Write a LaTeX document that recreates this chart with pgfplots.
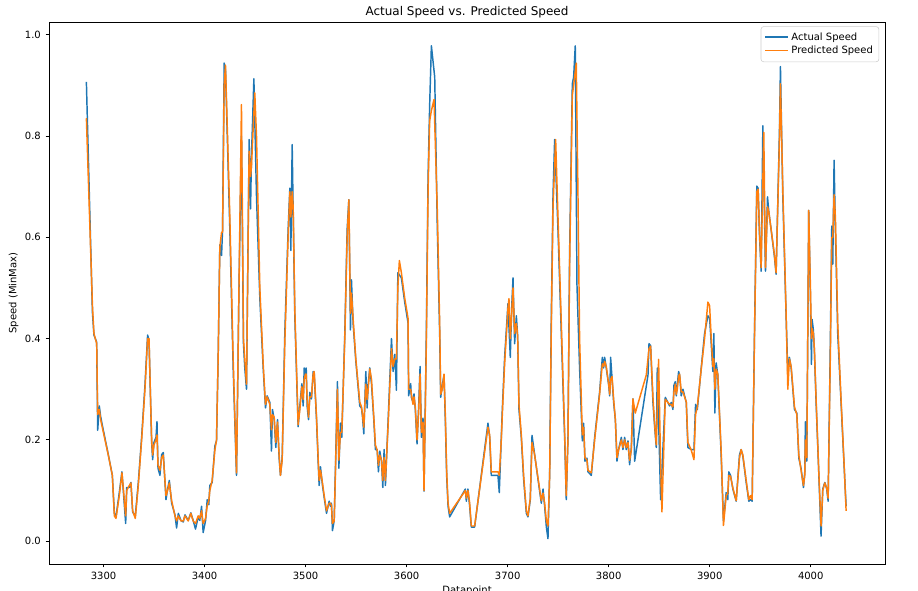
\documentclass[border=0pt]{standalone}
\usepackage{pgfplots}
\pgfplotsset{compat=1.18}
\usepackage{pgfplotstable}
\usepackage{fontspec}
\setmainfont{DejaVu Sans}
\definecolor{tabblue}{HTML}{1F77B4}
\definecolor{taborange}{HTML}{FF7F0E}

\pgfplotstableread{
x y
3283 0.907
3289 0.451
3290.5 0.407
3293.2 0.393
3294.2 0.219
3295.8 0.267
3297.1 0.246
3299.8 0.219
3304.7 0.171
3308.7 0.130
3310.7 0.055
3312.3 0.048
3315.6 0.096
3318.2 0.137
3320.2 0.082
3321.9 0.035
3322.9 0.106
3325.5 0.106
3327.1 0.116
3328.8 0.058
3331.4 0.049
3334.4 0.116
3337.7 0.205
3341 0.308
3343.6 0.407
3345 0.397
3347.6 0.195
3348.6 0.161
3349.9 0.195
3351.9 0.205
3352.9 0.236
3353.9 0.144
3355.8 0.130
3357.5 0.171
3359.1 0.175
3361.8 0.082
3363.4 0.103
3365.1 0.120
3367.4 0.075
3370.7 0.052
3372.3 0.026
3374 0.055
3376.6 0.041
3378.9 0.038
3380.6 0.052
3383.8 0.041
3386.4 0.056
3388.7 0.041
3391 0.024
3393.7 0.048
3395.3 0.041
3397 0.069
3398.6 0.017
3401 0.041
3402.6 0.082
3404.2 0.072
3405.2 0.110
3407.5 0.116
3410.2 0.188
3411.8 0.198
3413.5 0.369
3415.1 0.585
3416.8 0.564
3417.8 0.615
3419.4 0.944
3420.7 0.930
3425 0.615
3428.3 0.342
3431.6 0.130
3433.9 0.479
3436.5 0.800
3438.5 0.390
3439.8 0.342
3441.5 0.300
3444.1 0.793
3445.5 0.656
3446.4 0.759
3448.8 0.913
3451.4 0.680
3454.7 0.479
3458 0.342
3460.3 0.263
3461.9 0.287
3464.6 0.274
3466.2 0.178
3467.2 0.260
3468.9 0.240
3470.5 0.185
3472.2 0.240
3473.8 0.164
3475.1 0.130
3476.8 0.164
3479.4 0.410
3482.7 0.615
3484.4 0.697
3485.4 0.574
3486.7 0.783
3487.7 0.650
3489.3 0.445
3492.6 0.226
3494.3 0.267
3496.3 0.311
3497.6 0.267
3498.6 0.342
3499.9 0.322
3500.6 0.342
3501.5 0.267
3502.9 0.240
3504.2 0.294
3505.8 0.281
3507.5 0.335
3508.5 0.332
3510.8 0.240
3512.4 0.158
3513.4 0.110
3514.7 0.147
3516.7 0.110
3518.4 0.086
3520.7 0.055
3523.3 0.079
3524.6 0.069
3525.6 0.075
3526.6 0.021
3528.3 0.041
3529.6 0.151
3531.5 0.315
3532.9 0.144
3534.5 0.233
3535.8 0.205
3538.8 0.410
3541.1 0.615
3542.8 0.674
3544.4 0.417
3545.4 0.516
3547 0.431
3549.7 0.356
3553.6 0.267
3555.3 0.263
3556.3 0.246
3557.6 0.212
3559.6 0.335
3560.9 0.263
3561.9 0.308
3563.5 0.342
3565.2 0.311
3567.5 0.240
3569.1 0.181
3570.8 0.181
3572.1 0.137
3573.4 0.178
3575.1 0.158
3576.4 0.106
3577.7 0.181
3579 0.110
3581.7 0.240
3585 0.400
3586.6 0.335
3588.3 0.369
3589.9 0.298
3591.3 0.530
3594.8 0.520
3598.1 0.472
3601.4 0.431
3602 0.287
3604 0.311
3604.7 0.284
3606.3 0.274
3607.3 0.291
3608.6 0.260
3610.3 0.192
3611.9 0.267
3613.3 0.345
3614.6 0.205
3616.2 0.243
3617.2 0.099
3619.5 0.410
3621.2 0.718
3622.8 0.862
3624.5 0.978
3627.8 0.916
3630.4 0.615
3632.7 0.410
3633.7 0.284
3635.3 0.308
3637 0.328
3638.3 0.240
3639.6 0.130
3641 0.069
3642.6 0.048
3658.1 0.103
3659.1 0.079
3660.7 0.103
3662.4 0.069
3664 0.028
3667.3 0.028
3680.5 0.233
3682.2 0.205
3683.8 0.130
3690.4 0.130
3691.7 0.096
3693.7 0.205
3694.7 0.260
3697 0.363
3700.3 0.469
3702.6 0.363
3704 0.462
3705.3 0.520
3706.9 0.390
3708.6 0.445
3709.9 0.404
3711.2 0.260
3713.5 0.205
3715.8 0.123
3718.5 0.055
3720.1 0.048
3722.4 0.082
3724.1 0.209
3726.7 0.171
3730 0.123
3733.3 0.075
3735 0.103
3736.6 0.069
3738.3 0.028
3739.9 0.005
3741.6 0.137
3743.2 0.445
3744.9 0.684
3746.5 0.793
3749.8 0.615
3753.1 0.410
3756.4 0.205
3758 0.082
3759.7 0.205
3761.3 0.568
3764 0.903
3765.3 0.916
3766.9 0.978
3768.6 0.506
3771.2 0.342
3773.9 0.198
3775.2 0.233
3776.5 0.158
3778.5 0.164
3779.5 0.137
3782.8 0.130
3786.1 0.205
3791 0.294
3793.7 0.363
3795 0.342
3796 0.363
3797.6 0.342
3800 0.308
3801 0.287
3801.9 0.363
3803.3 0.322
3804.9 0.274
3806.6 0.240
3808.2 0.158
3809.8 0.181
3812.5 0.205
3814.1 0.181
3815.8 0.205
3817.4 0.181
3819.1 0.198
3820.7 0.151
3822.4 0.185
3824 0.281
3825.7 0.158
3838.9 0.328
3839.9 0.390
3841.5 0.386
3843.8 0.274
3845.5 0.226
3847.1 0.185
3848.1 0.342
3851.4 0.082
3856 0.284
3860.3 0.267
3861.9 0.274
3863.6 0.260
3864.6 0.308
3865.9 0.315
3866.9 0.287
3867.9 0.308
3869.2 0.335
3870.2 0.328
3871.8 0.287
3873.5 0.300
3875.1 0.287
3876.8 0.274
3878.4 0.185
3881.7 0.181
3884.4 0.181
3886 0.270
3887.7 0.260
3891.6 0.342
3894.9 0.410
3898.2 0.445
3899.9 0.440
3901.5 0.390
3903.1 0.335
3904.1 0.410
3905.1 0.253
3906.4 0.352
3908 0.328
3911.3 0.171
3913.6 0.040
3916.3 0.096
3917.9 0.082
3918.9 0.137
3920.6 0.130
3922.9 0.103
3926.2 0.079
3929.5 0.171
3931.1 0.181
3932.8 0.168
3936.1 0.116
3938.7 0.079
3940.4 0.082
3942 0.079
3944.3 0.410
3946.6 0.701
3947.9 0.697
3949.3 0.602
3950.9 0.533
3952.6 0.820
3955.2 0.533
3957.2 0.680
3958.5 0.650
3960.8 0.615
3964.1 0.561
3965.7 0.527
3969 0.807
3970 0.937
3972.3 0.684
3975.6 0.445
3977.3 0.330
3978.9 0.363
3980.6 0.342
3983.9 0.260
3986.2 0.253
3988.2 0.164
3990.4 0.144
3992.8 0.106
3994.1 0.137
3994.7 0.236
3996.1 0.158
3998 0.653
3999.7 0.479
4000.7 0.349
4001.3 0.438
4002.6 0.417
4003.6 0.376
4005.3 0.274
4007.9 0.137
4010.2 0.010
4011.9 0.103
4013.9 0.116
4015.8 0.103
4017.2 0.079
4019.5 0.410
4020.8 0.622
4021.8 0.547
4023.1 0.752
4024.4 0.615
4026.7 0.410
4030 0.274
4033.3 0.137
4035 0.069
}\actual

\pgfplotstableread{
x y
3283 0.835
3289 0.465
3290.5 0.410
3293.2 0.390
3294.2 0.250
3295.8 0.260
3297.1 0.240
3299.8 0.215
3304.7 0.170
3308.7 0.130
3310.7 0.050
3312.3 0.045
3315.6 0.090
3318.2 0.135
3320.2 0.090
3321.9 0.050
3322.9 0.100
3325.5 0.110
3327.1 0.115
3328.8 0.060
3331.4 0.045
3334.4 0.110
3337.7 0.200
3341 0.300
3343.6 0.400
3345 0.400
3347.6 0.200
3348.6 0.170
3349.9 0.190
3351.9 0.200
3352.9 0.210
3353.9 0.150
3355.8 0.140
3357.5 0.165
3359.1 0.170
3361.8 0.090
3363.4 0.100
3365.1 0.115
3367.4 0.080
3370.7 0.050
3372.3 0.040
3374 0.050
3376.6 0.040
3378.9 0.040
3380.6 0.050
3383.8 0.040
3386.4 0.055
3388.7 0.040
3391 0.035
3393.7 0.050
3395.3 0.045
3397 0.060
3398.6 0.035
3401 0.045
3402.6 0.070
3404.2 0.080
3405.2 0.100
3407.5 0.120
3410.2 0.180
3411.8 0.200
3413.5 0.370
3415.1 0.580
3416.8 0.610
3417.8 0.610
3419.4 0.900
3420.7 0.940
3425 0.640
3428.3 0.360
3431.6 0.135
3433.9 0.480
3436.5 0.862
3438.5 0.400
3439.8 0.360
3441.5 0.310
3444.1 0.770
3445.5 0.720
3446.4 0.740
3449.7 0.885
3451.4 0.800
3454.7 0.500
3458 0.350
3460.3 0.270
3461.9 0.285
3464.6 0.270
3466.2 0.220
3467.2 0.250
3468.9 0.245
3470.5 0.195
3472.2 0.235
3473.8 0.170
3475.1 0.130
3476.8 0.160
3479.4 0.390
3482.7 0.600
3484.4 0.690
3485.4 0.640
3486.7 0.690
3487.7 0.660
3489.3 0.460
3492.6 0.230
3494.3 0.260
3496.3 0.305
3497.6 0.280
3498.6 0.320
3499.9 0.330
3500.6 0.330
3501.5 0.280
3502.9 0.245
3504.2 0.285
3505.8 0.285
3507.5 0.330
3508.5 0.335
3510.8 0.245
3512.4 0.165
3513.4 0.120
3514.7 0.140
3516.7 0.115
3518.4 0.090
3520.7 0.060
3523.3 0.075
3524.6 0.075
3525.6 0.070
3526.6 0.035
3528.3 0.040
3529.6 0.140
3531.5 0.300
3532.9 0.160
3534.5 0.215
3535.8 0.215
3538.8 0.400
3541.1 0.600
3542.8 0.674
3544.4 0.450
3545.4 0.490
3547 0.440
3549.7 0.360
3553.6 0.275
3555.3 0.265
3556.3 0.250
3557.6 0.225
3559.6 0.310
3560.9 0.280
3561.9 0.300
3563.5 0.340
3565.2 0.320
3567.5 0.245
3569.1 0.190
3570.8 0.180
3572.1 0.150
3573.4 0.170
3575.1 0.160
3576.4 0.120
3577.7 0.165
3579 0.120
3581.7 0.230
3585 0.380
3586.6 0.345
3588.3 0.360
3589.9 0.360
3591.3 0.500
3592.8 0.554
3594.8 0.530
3598.1 0.480
3601.4 0.440
3602 0.300
3604 0.300
3604.7 0.290
3606.3 0.270
3607.3 0.285
3608.6 0.265
3610.3 0.200
3611.9 0.255
3613.3 0.330
3614.6 0.215
3616.2 0.235
3617.2 0.100
3619.5 0.390
3621.2 0.690
3622.8 0.830
3624.5 0.850
3627.1 0.872
3630.4 0.650
3632.7 0.430
3633.7 0.290
3635.3 0.300
3637 0.330
3638.3 0.250
3639.6 0.140
3641 0.075
3642.6 0.055
3658.1 0.100
3659.1 0.085
3660.7 0.100
3662.4 0.075
3664 0.030
3667.3 0.030
3680.5 0.225
3682.2 0.210
3683.8 0.137
3690.4 0.137
3691.7 0.130
3693.7 0.200
3694.7 0.250
3697 0.350
3700.3 0.460
3701.3 0.479
3702.6 0.400
3704 0.450
3705.3 0.500
3706.9 0.410
3708.6 0.430
3709.9 0.405
3711.2 0.270
3713.5 0.210
3715.8 0.130
3718.5 0.060
3720.1 0.050
3722.4 0.085
3724.1 0.195
3726.7 0.170
3730 0.125
3733.3 0.080
3735 0.095
3736.6 0.075
3738.3 0.040
3739.9 0.030
3741.6 0.130
3743.2 0.420
3744.9 0.660
3747.5 0.793
3749.8 0.640
3753.1 0.430
3756.4 0.215
3758 0.090
3759.7 0.200
3761.3 0.540
3764 0.880
3765.3 0.900
3767.9 0.944
3769.5 0.700
3771.2 0.400
3773.9 0.210
3775.2 0.225
3776.5 0.165
3778.5 0.160
3779.5 0.140
3782.8 0.135
3786.1 0.200
3791 0.290
3793.7 0.350
3795 0.345
3796 0.355
3797.6 0.345
3800 0.310
3801 0.290
3801.9 0.320
3803.3 0.325
3804.9 0.280
3806.6 0.240
3808.2 0.165
3809.8 0.180
3812.5 0.200
3814.1 0.185
3815.8 0.200
3817.4 0.185
3819.1 0.195
3820.7 0.160
3822.4 0.180
3824 0.281
3826.3 0.253
3837.2 0.328
3839.9 0.380
3841.5 0.385
3843.8 0.285
3845.5 0.230
3847.1 0.190
3849.4 0.359
3851.4 0.150
3852.7 0.058
3856 0.280
3860.3 0.270
3861.9 0.270
3863.6 0.265
3864.6 0.295
3865.9 0.310
3866.9 0.290
3867.9 0.300
3869.2 0.325
3870.2 0.330
3871.8 0.295
3873.5 0.295
3875.1 0.285
3876.8 0.275
3878.4 0.195
3881.7 0.180
3884.4 0.161
3886 0.250
3887.7 0.265
3891.6 0.340
3894.9 0.400
3898.2 0.472
3899.9 0.465
3901.5 0.400
3903.1 0.345
3904.1 0.360
3905.1 0.300
3906.4 0.340
3908 0.330
3911.3 0.180
3913.6 0.031
3916.3 0.090
3917.9 0.095
3918.9 0.130
3920.6 0.128
3922.9 0.105
3926.2 0.080
3929.5 0.165
3931.1 0.181
3932.8 0.170
3936.1 0.120
3938.7 0.082
3940.4 0.090
3942 0.082
3944.3 0.400
3946.6 0.690
3947.9 0.695
3949.3 0.610
3950.9 0.540
3953.5 0.807
3955.2 0.540
3957.2 0.660
3958.5 0.650
3960.8 0.615
3964.1 0.565
3965.7 0.530
3969 0.790
3970 0.903
3972.3 0.700
3975.6 0.450
3977.3 0.300
3978.9 0.360
3980.6 0.345
3983.9 0.265
3986.2 0.250
3988.2 0.170
3990.4 0.140
3992.8 0.110
3994.1 0.130
3994.7 0.200
3996.1 0.165
3998 0.653
3999.7 0.500
4000.7 0.400
4001.3 0.420
4002.6 0.410
4003.6 0.380
4005.3 0.280
4007.9 0.140
4010.2 0.030
4011.9 0.100
4013.9 0.115
4015.8 0.105
4017.2 0.085
4019.5 0.380
4020.8 0.600
4021.8 0.600
4023.1 0.684
4024.4 0.640
4026.7 0.430
4030 0.280
4033.3 0.140
4035 0.060
}\predicted

\begin{document}
\begin{tikzpicture}
\path[use as bounding box] (-36.75pt,-19.5pt) rectangle (651.75pt,423pt);
\begin{axis}[
  at={(0pt,0pt)}, anchor=south west,
  scale only axis,
  width=627pt, height=406.5pt,
  xmin=3246, xmax=4073.5,
  ymin=-0.045, ymax=1.025,
  xtick={3300,3400,...,4000},
  ytick={0,0.2,0.4,0.6,0.8,1.0},
  yticklabel style={/pgf/number format/.cd, fixed, fixed zerofill, precision=1},
  xticklabel style={/pgf/number format/.cd, set thousands separator={}},
  /pgf/number format/assume math mode=true,
  tick align=outside,
  tick pos=left,
  major tick length=2.6pt,
  every tick/.style={black, line width=0.6pt},
  axis line style={line width=0.6pt},
  ticklabel style={font=\fontsize{7.5}{9}\selectfont},
  title={Actual Speed vs. Predicted Speed},
  title style={font=\fontsize{9}{11}\selectfont, yshift=-6.5pt},
  xlabel={Datapoint},
  ylabel={Speed (MinMax)},
  label style={font=\fontsize{7.5}{9}\selectfont},
  xlabel style={yshift=2pt},
  ylabel style={yshift=-2pt},
  legend style={at={(rel axis cs:0.993,0.992)}, anchor=north east,
    draw=black!20, rounded corners=2pt, font=\fontsize{7.5}{9}\selectfont,
    row sep=-1pt, inner sep=2.5pt},
  legend cell align=left,
  legend image code/.code={\draw[#1, line width=1.3pt] (0pt,0.4pt) -- (17pt,0.4pt);},
]
\addplot[tabblue, line width=1.1pt, line join=round] table {\actual};
\addlegendentry{Actual Speed}
\addplot[taborange, line width=1.1pt, line join=round] table {\predicted};
\addlegendentry{Predicted Speed}
\end{axis}
\end{tikzpicture}
\end{document}
